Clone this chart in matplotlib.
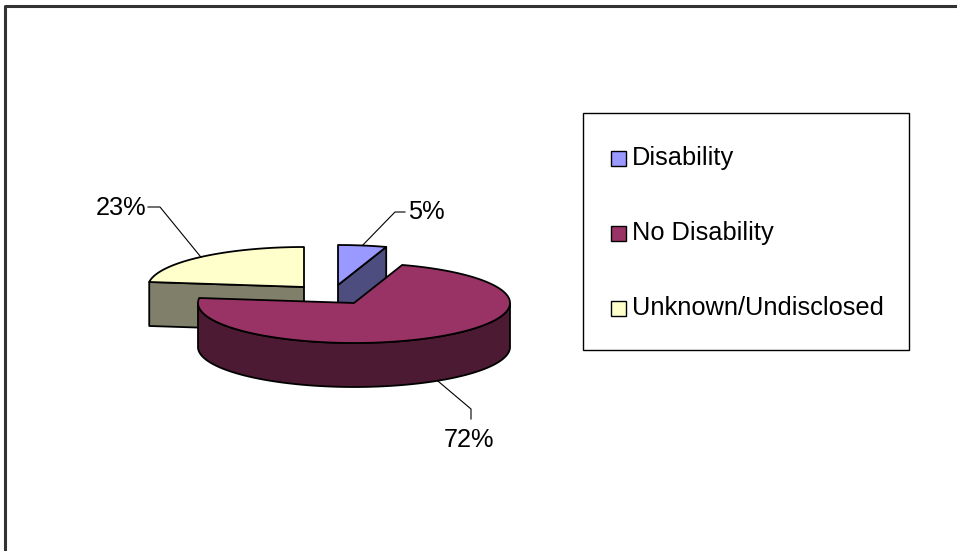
import numpy as np
import matplotlib.pyplot as plt
from matplotlib.patches import Polygon, Rectangle

labels = ['Disability', 'No Disability', 'Unknown/Undisclosed']
shares = [5, 72, 23]
top_colors = ['#9999FF', '#993366', '#FFFFCC']
side_colors = ['#4D4D80', '#4C1A33', '#80806A']

# pie layout in pixels (y grows downward)
cx, cy = 354, 303
rx, ry = 156, 40
depth = 44
start = 90.0
offsets = [(-16, -18), (0, 0), (-50, -16)]
label_pos = [(426, 212), (469, 440), (121, 208)]
draw_order = [0, 2, 1]
fs = 18.3

plt.rcParams['font.family'] = ['Liberation Sans', 'DejaVu Sans']
fig = plt.figure(figsize=(9.57, 5.51), dpi=100)
ax = fig.add_axes([0, 0, 1, 1])
ax.set_xlim(0, 957)
ax.set_ylim(551, 0)
ax.axis('off')


def pt(ox, oy, ang, down=0):
    t = np.radians(ang)
    return ox + rx * np.cos(t), oy - ry * np.sin(t) + down


# angles of each slice, going clockwise from 12 o'clock
bounds = []
a = start
for s in shares:
    b = a - s / sum(shares) * 360
    bounds.append((a, b))
    a = b

for i in draw_order:
    a0, a1 = bounds[i]
    ox, oy = cx + offsets[i][0], cy + offsets[i][1]
    kw = dict(edgecolor='black', linewidth=1.3, joinstyle='round')

    # cut faces on either side of the slice
    for ang, vis in ((a0, np.cos(np.radians(a0)) < -1e-6),
                     (a1, np.cos(np.radians(a1)) > 1e-6)):
        if vis:
            px, py = pt(ox, oy, ang)
            face = [(ox, oy), (px, py), (px, py + depth), (ox, oy + depth)]
            ax.add_patch(Polygon(face, facecolor=side_colors[i], **kw))

    # front part of the outer wall
    angs = np.linspace(a1, a0, 300)
    front = angs[np.sin(np.radians(angs)) < 0]
    if len(front) > 1:
        upper = [pt(ox, oy, t) for t in front]
        lower = [pt(ox, oy, t, depth) for t in front[::-1]]
        ax.add_patch(Polygon(upper + lower, facecolor=side_colors[i], **kw))

    # top face
    arc = [pt(ox, oy, t) for t in np.linspace(a0, a1, 300)]
    ax.add_patch(Polygon([(ox, oy)] + arc, facecolor=top_colors[i], **kw))

# percentage labels with leader lines to the slice middle
for i, (lx, ly) in enumerate(label_pos):
    a0, a1 = bounds[i]
    mid = (a0 + a1) / 2
    ox, oy = cx + offsets[i][0], cy + offsets[i][1]
    front = np.sin(np.radians(mid)) < 0
    ex, ey = pt(ox, oy, mid, depth if front else 0)
    ax.text(lx, ly, f'{shares[i]}%', ha='center', va='center', fontsize=fs)
    if front:
        ax.plot([lx + 2, lx + 2, ex], [ly - 21, ly - 31, ey], color='black', lw=0.8)
    elif ex < lx:
        ax.plot([lx - 21, lx - 31, ex], [ly, ly, ey], color='black', lw=0.8)
    else:
        ax.plot([lx + 27, lx + 39, ex], [ly - 1, ly - 1, ey], color='black', lw=0.8)

# legend box
ax.add_patch(Rectangle((583, 113), 326, 237, facecolor='white',
                       edgecolor='black', linewidth=1.0))
for i, lab in enumerate(labels):
    y = 158 + i * 75
    ax.add_patch(Rectangle((611, y - 7.5), 15, 15, facecolor=top_colors[i],
                           edgecolor='black', linewidth=1.0))
    ax.text(632, y, lab, ha='left', va='center', fontsize=fs)

# outer chart frame
ax.plot([5, 5, 957], [551, 6, 6], color='#333333', lw=2.2, solid_capstyle='butt')

fig.savefig('out.png', dpi=100)
